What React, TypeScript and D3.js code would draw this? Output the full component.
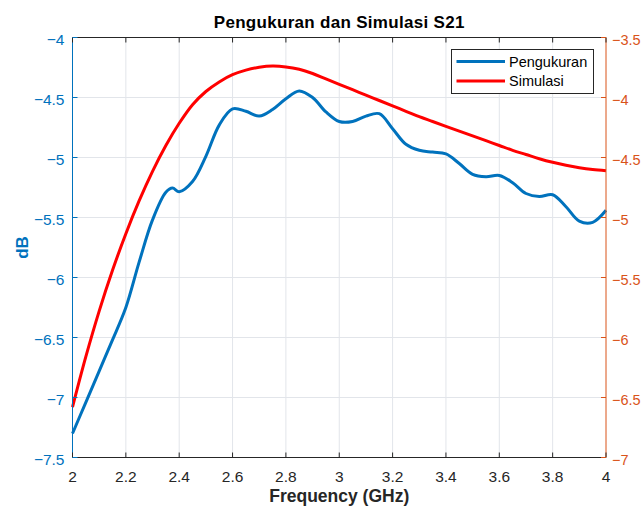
// App.tsx
import React, { useEffect, useRef } from "react";
import * as d3 from "d3";

// measured S21 (left axis, dB)
const measFreq = [
  2.0, 2.05, 2.1, 2.15, 2.2, 2.25, 2.3, 2.35, 2.375, 2.4, 2.45, 2.5, 2.55, 2.6,
  2.65, 2.7, 2.75, 2.8, 2.85, 2.9, 2.95, 3.0, 3.05, 3.1, 3.15, 3.2, 3.25, 3.3,
  3.35, 3.4, 3.45, 3.5, 3.55, 3.6, 3.65, 3.7, 3.75, 3.8, 3.85, 3.9, 3.95, 4.0,
];
const measDb = [
  -7.3, -7.04, -6.78, -6.52, -6.25, -5.87, -5.52, -5.29, -5.255, -5.285, -5.2,
  -4.99, -4.73, -4.595, -4.615, -4.655, -4.6, -4.51, -4.445, -4.5, -4.62, -4.7,
  -4.7, -4.655, -4.635, -4.76, -4.89, -4.94, -4.955, -4.97, -5.05, -5.14,
  -5.16, -5.15, -5.21, -5.3, -5.325, -5.31, -5.41, -5.53, -5.54, -5.44,
];

// simulated S21 (right axis, dB)
const simFreq = [
  2.0, 2.05, 2.1, 2.15, 2.2, 2.25, 2.3, 2.35, 2.4, 2.45, 2.5, 2.55, 2.6, 2.65,
  2.7, 2.75, 2.8, 2.85, 2.9, 2.95, 3.0, 3.05, 3.1, 3.15, 3.2, 3.25, 3.3, 3.35,
  3.4, 3.45, 3.5, 3.55, 3.6, 3.65, 3.7, 3.75, 3.8, 3.85, 3.9, 3.95, 4.0,
];
const simDb = [
  -6.58, -6.16, -5.78, -5.44, -5.135, -4.86, -4.615, -4.4, -4.215, -4.06,
  -3.95, -3.87, -3.81, -3.772, -3.748, -3.738, -3.745, -3.765, -3.8, -3.845,
  -3.89, -3.935, -3.98, -4.025, -4.07, -4.115, -4.16, -4.2, -4.24, -4.28,
  -4.32, -4.36, -4.4, -4.44, -4.475, -4.51, -4.54, -4.565, -4.585, -4.6, -4.61,
];

const xTicks = [2, 2.2, 2.4, 2.6, 2.8, 3, 3.2, 3.4, 3.6, 3.8, 4];
const leftTicks = [-7.5, -7, -6.5, -6, -5.5, -5, -4.5, -4];
const rightTicks = [-7, -6.5, -6, -5.5, -5, -4.5, -4, -3.5];
const seriesNames = ["Pengukuran", "Simulasi"];

const BLUE = "#0072BD";
const ORANGE = "#D95319";
const RED = "#FF0000";
const DARK = "#262626";
const FONT = "'Liberation Sans', Arial, Helvetica, sans-serif";

const App = () => {
  const svgRef = useRef<SVGSVGElement | null>(null);

  useEffect(() => {
    const width = 642;
    const height = 511;
    const left = 72.5;
    const right = 606;
    const top = 37.5;
    const bottom = 457.5;

    const svg = d3.select(svgRef.current);
    svg.selectAll("*").remove();
    svg.attr("width", width).attr("height", height);

    svg.append("rect").attr("width", width).attr("height", height).attr("fill", "white");

    const x = d3.scaleLinear().domain([2, 4]).range([left, right]);
    const yL = d3.scaleLinear().domain([-7.5, -4]).range([bottom, top]);
    const yR = d3.scaleLinear().domain([-7, -3.5]).range([bottom, top]);

    // grid
    const grid = svg.append("g").attr("stroke", "#e2e5ea").attr("stroke-width", 1);
    xTicks.slice(1, -1).forEach((t) => {
      grid.append("line").attr("x1", x(t)).attr("x2", x(t)).attr("y1", top).attr("y2", bottom);
    });
    leftTicks.slice(1, -1).forEach((t) => {
      grid.append("line").attr("x1", left).attr("x2", right).attr("y1", yL(t)).attr("y2", yL(t));
    });

    // lines
    const measLine = d3
      .line<number>()
      .x((_, i) => x(measFreq[i]))
      .y((d) => yL(d))
      .curve(d3.curveCatmullRom.alpha(0.5));
    const simLine = d3
      .line<number>()
      .x((_, i) => x(simFreq[i]))
      .y((d) => yR(d))
      .curve(d3.curveCatmullRom.alpha(0.5));

    svg.append("path").datum(measDb).attr("d", measLine).attr("fill", "none")
      .attr("stroke", BLUE).attr("stroke-width", 3).attr("stroke-linejoin", "round");
    svg.append("path").datum(simDb).attr("d", simLine).attr("fill", "none")
      .attr("stroke", RED).attr("stroke-width", 3).attr("stroke-linejoin", "round");

    // axes box
    const ax = svg.append("g").attr("fill", "none").attr("stroke-width", 1);
    ax.append("line").attr("x1", left).attr("x2", right).attr("y1", bottom).attr("y2", bottom).attr("stroke", DARK);
    ax.append("line").attr("x1", left).attr("x2", right).attr("y1", top).attr("y2", top).attr("stroke", DARK);
    ax.append("line").attr("x1", left).attr("x2", left).attr("y1", top).attr("y2", bottom).attr("stroke", BLUE);
    ax.append("line").attr("x1", right).attr("x2", right).attr("y1", top).attr("y2", bottom).attr("stroke", ORANGE);

    const fmt = d3.format("~g");

    // x ticks (top + bottom, inward)
    xTicks.forEach((t) => {
      ax.append("line").attr("x1", x(t)).attr("x2", x(t)).attr("y1", bottom).attr("y2", bottom - 5).attr("stroke", DARK);
      ax.append("line").attr("x1", x(t)).attr("x2", x(t)).attr("y1", top).attr("y2", top + 5).attr("stroke", DARK);
      svg.append("text").attr("x", x(t)).attr("y", bottom + 24.5).attr("text-anchor", "middle")
        .attr("font-family", FONT).attr("font-size", 15.5).attr("fill", DARK).text(fmt(t));
    });

    leftTicks.forEach((t) => {
      ax.append("line").attr("x1", left).attr("x2", left + 5).attr("y1", yL(t)).attr("y2", yL(t)).attr("stroke", BLUE);
      svg.append("text").attr("x", left - 8).attr("y", yL(t) + 7).attr("text-anchor", "end")
        .attr("font-family", FONT).attr("font-size", 15.5).attr("fill", BLUE).text(fmt(t));
    });

    rightTicks.forEach((t) => {
      ax.append("line").attr("x1", right).attr("x2", right - 5).attr("y1", yR(t)).attr("y2", yR(t)).attr("stroke", ORANGE);
      svg.append("text").attr("x", right + 6).attr("y", yR(t) + 7).attr("text-anchor", "start")
        .attr("font-family", FONT).attr("font-size", 14.5).attr("fill", ORANGE).text(fmt(t));
    });

    // titles
    svg.append("text").attr("x", (left + right) / 2).attr("y", 28).attr("text-anchor", "middle")
      .attr("font-family", FONT).attr("font-size", 17).attr("font-weight", "bold")
      .attr("letter-spacing", 0.3).attr("fill", "#000")
      .text("Pengukuran dan Simulasi S21");
    svg.append("text").attr("x", (left + right) / 2).attr("y", 502).attr("text-anchor", "middle")
      .attr("font-family", FONT).attr("font-size", 17.5).attr("font-weight", "bold").attr("fill", DARK)
      .text("Frequency (GHz)");
    svg.append("text").attr("transform", `translate(28,${(top + bottom) / 2}) rotate(-90)`)
      .attr("text-anchor", "middle").attr("font-family", FONT).attr("font-size", 17)
      .attr("font-weight", "bold").attr("fill", BLUE).text("dB");

    // legend
    const lg = svg.append("g");
    lg.append("rect").attr("x", 451.5).attr("y", 49.5).attr("width", 142).attr("height", 44)
      .attr("fill", "white").attr("stroke", DARK).attr("stroke-width", 1);
    [BLUE, RED].forEach((c, i) => {
      const yy = 61.5 + i * 19.5;
      lg.append("line").attr("x1", 456.5).attr("x2", 505).attr("y1", yy).attr("y2", yy)
        .attr("stroke", c).attr("stroke-width", 3);
      lg.append("text").attr("x", 509).attr("y", yy + 5).attr("font-family", FONT)
        .attr("font-size", 14.5).attr("fill", "#000").text(seriesNames[i]);
    });
  }, []);

  return (
    <svg
      ref={svgRef}
      style={{ position: "absolute", left: 0, top: 0, display: "block" }}
    ></svg>
  );
};

export default App;
